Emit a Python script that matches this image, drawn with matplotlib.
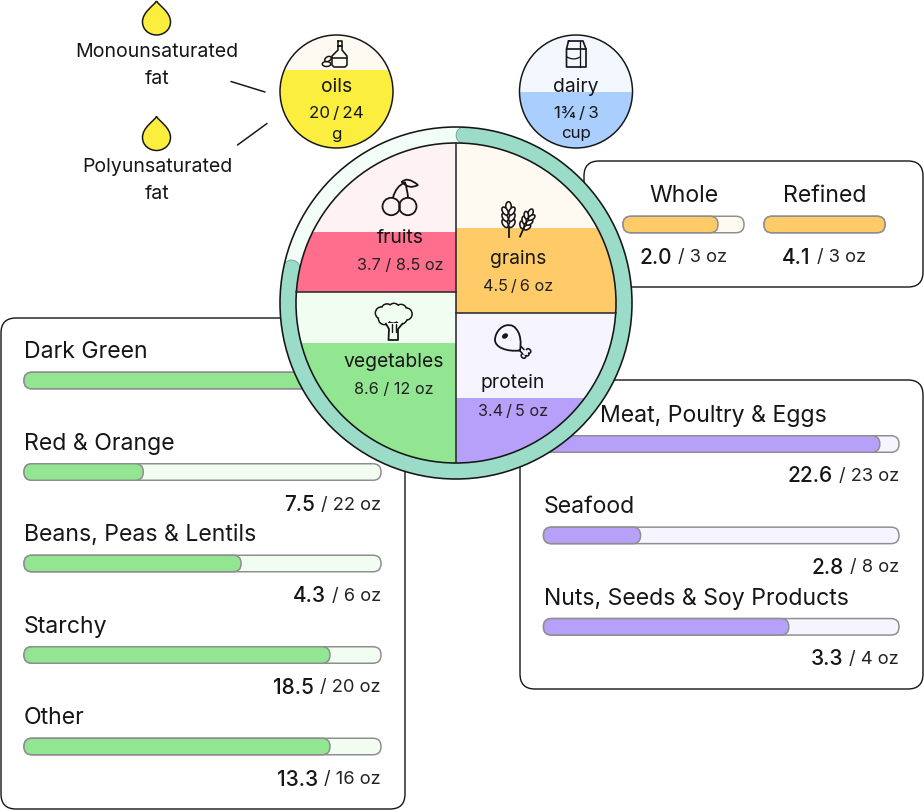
import numpy as np
import matplotlib
matplotlib.use("Agg")
import matplotlib.pyplot as plt
from matplotlib.patches import Circle, Ellipse, FancyBboxPatch, Rectangle, PathPatch
from matplotlib.path import Path
from matplotlib import transforms

plt.rcParams['font.family'] = ['Inter', 'DejaVu Sans']

# ---- data
veg_names = ["Dark Green", "Red & Orange", "Beans, Peas & Lentils", "Starchy", "Other"]
veg_have = ["", "7.5", "4.3", "18.5", "13.3"]  # first one sits behind the plate
veg_goal = ["13", "22", "6", "20", "16"]
veg_fill = [1.0, 0.334, 0.608, 0.857, 0.857]

protein_names = ["Meat, Poultry & Eggs", "Seafood", "Nuts, Seeds & Soy Products"]
protein_have = ["22.6", "2.8", "3.3"]
protein_goal = ["23", "8", "4"]
protein_fill = [0.946, 0.273, 0.69]

grain_names = ["Whole", "Refined"]
grain_have = ["2.0", "4.1"]
grain_goal = ["3", "3"]
grain_fill = [0.785, 1.0]

ring_from, ring_to = 0.008, 0.783

plate_labels = ["fruits", "grains", "vegetables", "protein"]
plate_values = ["3.7 / 8.5 oz", "4.5\u2009/\u20096 oz", "8.6 / 12 oz", "3.4\u2009/\u20095 oz"]
plate_fill = [0.40, 0.50, 0.70, 0.433]

oil_fill = 0.69
dairy_fill = 0.50

INK = "#161616"
GREY = "#8e8e8e"
TEAL = "#9adcc8"
RED, RED_L = "#ff6f8d", "#fff2f4"
ORANGE, ORANGE_L = "#ffcb69", "#fefaf2"
GREEN, GREEN_L = "#92e692", "#f2fdf2"
PURPLE, PURPLE_L = "#b7a0fa", "#f6f4ff"
YELLOW = "#fcee3f"
BLUE, BLUE_L = "#aacfff", "#f3f8ff"

PX = 0.72  # one pixel in points at dpi 100

fig = plt.figure(figsize=(9.24, 8.10), dpi=100)
ax = fig.add_axes([0, 0, 1, 1])
ax.set_xlim(0, 924)
ax.set_ylim(810, 0)
ax.axis("off")


def txt(x, y, s, size, z=3, **kw):
    kw.setdefault("ha", "center")
    kw.setdefault("va", "center_baseline")
    kw.setdefault("color", INK)
    return ax.text(x, y, s, fontsize=size, zorder=z, **kw)


def card(x0, y0, x1, y1):
    ax.add_patch(FancyBboxPatch((x0, y0), x1 - x0, y1 - y0, boxstyle="round,pad=0,rounding_size=15",
                                fc="white", ec=INK, lw=1.4 * PX, zorder=1))


def bar(x0, x1, yc, frac, col, col_l, h=16.5):
    ax.add_patch(FancyBboxPatch((x0, yc - h / 2), x1 - x0, h, boxstyle="round,pad=0,rounding_size=8",
                                fc=col_l, ec=GREY, lw=1.5 * PX, zorder=2))
    w = (x1 - x0) * frac
    ax.add_patch(FancyBboxPatch((x0, yc - h / 2), w, h, boxstyle="round,pad=0,rounding_size=8",
                                fc=col, ec=GREY, lw=1.5 * PX, zorder=2.1))


def value(x, y, have, goal, ha="right"):
    # bold amount + regular target, glued together
    r = fig.canvas.get_renderer()
    rest = txt(x, y, "/ %s oz" % goal, 13.2, ha="left", color="#222222")
    w_rest = rest.get_window_extent(r).width
    w_big = 0
    big = None
    gap = 6
    if have:
        big = txt(x, y, have, 15, ha="left", fontweight="medium")
        w_big = big.get_window_extent(r).width
    if ha == "right":
        left = x - w_rest - w_big - gap
    else:
        left = x - (w_rest + w_big + gap) / 2
    if big is not None:
        big.set_x(left)
    rest.set_x(left + w_big + gap)


# ---- cards with the sub group bars
card(1, 318, 405, 809)
for i in range(len(veg_names)):
    row = 91.5 * i
    txt(24, 349.6 + row, veg_names[i], 16.6, ha="left")
    bar(24, 381, 380.5 + row, veg_fill[i], GREEN, GREEN_L)
    value(381, 411.5 + row, veg_have[i], veg_goal[i])

card(520, 380, 923, 689)
protein_x = [600, 543.5, 543.5]
for i in range(len(protein_names)):
    row = 91.4 * i
    txt(protein_x[i], 413.2 + row, protein_names[i], 16.6, ha="left")
    bar(543.5, 899, 444 + row, protein_fill[i], PURPLE, PURPLE_L)
    value(899, 474.5 + row, protein_have[i], protein_goal[i])

card(584, 161, 923, 287)
for i in range(len(grain_names)):
    x0 = 623 + 141 * i
    txt(x0 + 61, 193.7, grain_names[i], 16.6)
    bar(x0, x0 + 121, 224.5, grain_fill[i], ORANGE, ORANGE_L)
    value(x0 + 60, 255.5, grain_have[i], grain_goal[i], ha="center")

# ---- the plate
CX, CY = 456, 303
R_OUT, R_IN = 176, 160
Z = 5
ax.add_patch(Circle((CX, CY), R_OUT, fc="#f2fdf8", ec="none", zorder=Z))
clip_out = Circle((CX, CY), R_OUT, transform=ax.transData)
a = np.linspace(2 * np.pi * ring_from, 2 * np.pi * ring_to, 300)
rm = (R_OUT + R_IN) / 2
for lw, c in [(17.6, "#6b8f84"), (16.2, TEAL)]:
    ln, = ax.plot(CX + rm * np.sin(a), CY - rm * np.cos(a), color=c, lw=lw * PX,
                  solid_capstyle="round", zorder=Z + 0.1)
    ln.set_clip_path(clip_out)

clip_in = Circle((CX, CY), R_IN, transform=ax.transData)
DIV_L, DIV_R = 292, 313
quads = [
    (CX - R_IN, CY - R_IN, DIV_L, RED, RED_L),
    (CX, CY - R_IN, DIV_R, ORANGE, ORANGE_L),
    (CX - R_IN, DIV_L, CY + R_IN, GREEN, GREEN_L),
    (CX, DIV_R, CY + R_IN, PURPLE, PURPLE_L),
]
for (x0, y0, y1, col, col_l), frac in zip(quads, plate_fill):
    h = y1 - y0
    back = Rectangle((x0, y0), R_IN, h, fc=col_l, ec="none", zorder=Z + 0.2)
    ax.add_patch(back)
    back.set_clip_path(clip_in)
    front = Rectangle((x0, y1 - h * frac), R_IN, h * frac, fc=col, ec="none", zorder=Z + 0.3)
    ax.add_patch(front)
    front.set_clip_path(clip_in)

ax.add_patch(Circle((CX, CY), R_OUT, fc="none", ec=INK, lw=1.6 * PX, zorder=Z + 0.5))
ax.add_patch(Circle((CX, CY), R_IN, fc="none", ec=INK, lw=1.6 * PX, zorder=Z + 0.5))
ax.plot([CX, CX], [CY - R_IN, CY + R_IN], color="#2b2b2b", lw=1.6 * PX, zorder=Z + 0.5)
ax.plot([CX - R_IN, CX], [DIV_L, DIV_L], color="#2b2b2b", lw=1.6 * PX, zorder=Z + 0.5)
ax.plot([CX, CX + R_IN], [DIV_R, DIV_R], color="#2b2b2b", lw=1.6 * PX, zorder=Z + 0.5)

label_xy = [(400, 235.7), (518, 257.3), (394, 360.3), (513, 381.3)]
value_xy = [(400.5, 264.5), (518, 285), (393.5, 388.5), (513, 409.5)]
for i in range(4):
    txt(label_xy[i][0], label_xy[i][1], plate_labels[i], 13.9, z=Z + 1)
    txt(value_xy[i][0], value_xy[i][1], plate_values[i], 11.7, z=Z + 1, color="#222222")


# ---- side circles
def side(cx, cy, r, frac, col, col_l):
    ax.add_patch(Circle((cx, cy), r, fc=col_l, ec="none", zorder=4))
    clip = Circle((cx, cy), r, transform=ax.transData)
    top = cy + r - 2 * r * frac
    rect = Rectangle((cx - r, top), 2 * r, 2 * r * frac, fc=col, ec="none", zorder=4.1)
    ax.add_patch(rect)
    rect.set_clip_path(clip)
    ax.add_patch(Circle((cx, cy), r, fc="none", ec=INK, lw=1.5 * PX, zorder=4.2))


side(336.5, 91.5, 56.5, oil_fill, YELLOW, ORANGE_L)
side(576, 91.5, 56.5, dairy_fill, BLUE, BLUE_L)
txt(336.5, 85, "oils", 13.9, z=5)
txt(336.5, 112.5, "20\u2009/\u200924", 12.2, z=5)
txt(336.5, 133, "g", 12.2, z=5)
txt(576, 85, "dairy", 13.9, z=5)
txt(576, 112.5, "1¾\u2009/\u20093", 12.2, z=5)
txt(576, 132, "cup", 12.2, z=5)


# ---- icons, drawn in pixel coordinates
def stroke(xs, ys, z=Z + 1, lw=1.8, curve=False):
    if curve:
        verts = list(zip(xs, ys))
        path = Path(verts, [Path.MOVETO] + [Path.CURVE3] * (len(verts) - 1))
        ax.add_patch(PathPatch(path, fc="none", ec=INK, lw=lw * PX, zorder=z, capstyle="round"))
    else:
        ax.plot(xs, ys, color=INK, lw=lw * PX, zorder=z, solid_capstyle="round",
                solid_joinstyle="round")


def drop(x, top):
    bot = top + 34
    r = 14
    verts = [(x, top), (x - 3, top + 5), (x - r, top + 11), (x - r, bot - r + 1),
             (x - r, bot - 5), (x - 7, bot), (x, bot),
             (x + 7, bot), (x + r, bot - 5), (x + r, bot - r + 1),
             (x + r, top + 11), (x + 3, top + 5), (x, top)]
    codes = [Path.MOVETO] + [Path.CURVE4] * 12
    ax.add_patch(PathPatch(Path(verts, codes), fc=YELLOW, ec=INK, lw=1.5 * PX, zorder=3))


drop(156.5, 1)
drop(156.5, 116.5)
txt(157, 49.8, "Monounsaturated", 14.05)
txt(157, 76.8, "fat", 14.05)
txt(157, 165.3, "Polyunsaturated", 14.05)
txt(157, 192.3, "fat", 14.05)
stroke([231, 265], [81.5, 92], z=3, lw=1.5)
stroke([237.5, 267], [145, 123.5], z=3, lw=1.5)

# cherries
ax.add_patch(Circle((391.2, 206.5), 8.7, fc="none", ec=INK, lw=1.8 * PX, zorder=Z + 1))
ax.add_patch(Circle((407.8, 206.5), 8.7, fc="none", ec=INK, lw=1.8 * PX, zorder=Z + 1))
stroke([393, 396, 405], [197.5, 186, 182.5], curve=True)
stroke([408, 407.5, 405], [197.5, 190, 182.5], curve=True)
stroke([402, 407, 418, 409, 402], [182, 176, 185, 190, 182], curve=True)


# wheat ear, along direction ang (degrees from straight up)
def wheat(x0, y0, ang, s=1.0):
    tr = transforms.Affine2D().rotate_deg_around(x0, y0, ang) + ax.transData
    ax.plot([x0, x0], [y0, y0 - 12 * s], color=INK, lw=1.8 * PX, zorder=Z + 1, transform=tr)
    ax.add_patch(Ellipse((x0, y0 - 30.5 * s), 5.5 * s, 9.5 * s, fc=ORANGE_L, ec=INK, lw=1.6 * PX,
                         zorder=Z + 1, transform=tr))
    for k in range(3):
        yk = y0 - (13.5 + 6.2 * k) * s
        for side_x, tilt in [(-3.4, -32), (3.4, 32)]:
            e = Ellipse((x0 + side_x * s, yk), 5 * s, 9 * s, angle=tilt, fc=ORANGE_L, ec=INK, lw=1.6 * PX,
                        zorder=Z + 1, transform=tr)
            ax.add_patch(e)


wheat(508.5, 237, 0)
wheat(520, 236.5, 24, 0.85)

# broccoli
bumps = [(381.5, 313, 6), (387, 309.5, 5.5), (394, 309.5, 6), (401, 310, 5.5), (406, 314, 6),
         (401, 318, 6), (393, 316, 7), (384.5, 318.5, 6), (388, 314, 6)]
for bx, by, br in bumps:
    ax.add_patch(Circle((bx, by), br, fc=GREEN_L, ec=INK, lw=1.8 * PX, zorder=Z + 0.9))
for bx, by, br in bumps:
    ax.add_patch(Circle((bx, by), br - 0.7, fc=GREEN_L, ec="none", zorder=Z + 0.95))
trunk = Path([(385.5, 323), (389, 329), (388.5, 340), (398, 340), (398, 329), (403, 323)])
ax.add_patch(PathPatch(trunk, fc=GREEN_L, ec=INK, lw=1.8 * PX, zorder=Z + 1, joinstyle="round"))
stroke([392, 392], [324, 332], lw=1.4)
stroke([395.5, 395.5], [324, 332], lw=1.4)

# drumstick
meat = [(513, 326), (503, 322), (495, 332), (495, 340), (495, 347), (506, 352), (520, 350.5),
        (521, 345), (522, 332), (513, 326)]
ax.add_patch(PathPatch(Path(meat, [Path.MOVETO] + [Path.CURVE4] * 9),
                       fc="none", ec=INK, lw=1.8 * PX, zorder=Z + 1))
ax.add_patch(Ellipse((505, 336), 5, 3.5, angle=-35, fc=INK, ec=INK, zorder=Z + 1))
stroke([519, 522], [350, 353], lw=1.6)
stroke([521, 524], [346.5, 349.5], lw=1.6)
ax.add_patch(Ellipse((526.5, 353.5), 5.5, 4, angle=45, fc=PURPLE_L, ec=INK, lw=1.6 * PX, zorder=Z + 1))
ax.add_patch(Ellipse((523.5, 356), 5, 4, angle=45, fc=PURPLE_L, ec=INK, lw=1.6 * PX, zorder=Z + 1))
ax.add_patch(Ellipse((528.5, 351), 5, 4, angle=45, fc=PURPLE_L, ec=INK, lw=1.6 * PX, zorder=Z + 1))
ax.add_patch(Ellipse((525.5, 352.5), 5, 5, fc=PURPLE_L, ec="none", zorder=Z + 1.1))

# oil bottle and olives
bottle = [(338, 46), (338, 50), (332, 56), (332, 65), (334, 67), (345, 67), (347, 65), (347, 56),
          (342, 50), (342, 46), (338, 46)]
bx, by = zip(*bottle)
stroke(bx, by, z=5, lw=1.6)
stroke([338, 342, 342, 338, 338], [41, 41, 46, 46, 41], z=5, lw=1.6)
stroke([332, 347], [58, 58], z=5, lw=1.6)
ax.add_patch(Ellipse((326.5, 64), 8.5, 5, fc=ORANGE_L, ec=INK, lw=1.5 * PX, zorder=5))
ax.add_patch(Ellipse((328, 59), 7, 4.5, angle=-30, fc=ORANGE_L, ec=INK, lw=1.5 * PX, zorder=5))

# milk carton
carton = [(568.5, 41), (583, 41), (586, 49), (586, 67), (566.5, 67), (566.5, 49), (568.5, 41)]
cx_, cy_ = zip(*carton)
stroke(cx_, cy_, z=5, lw=1.7)
stroke([566.5, 586], [49, 49], z=5, lw=1.7)
stroke([580, 580], [41, 67], z=5, lw=1.3)
stroke([567, 574, 580], [57, 61, 57], z=5, lw=1.3, curve=True)

fig.savefig("out.png", dpi=100)
